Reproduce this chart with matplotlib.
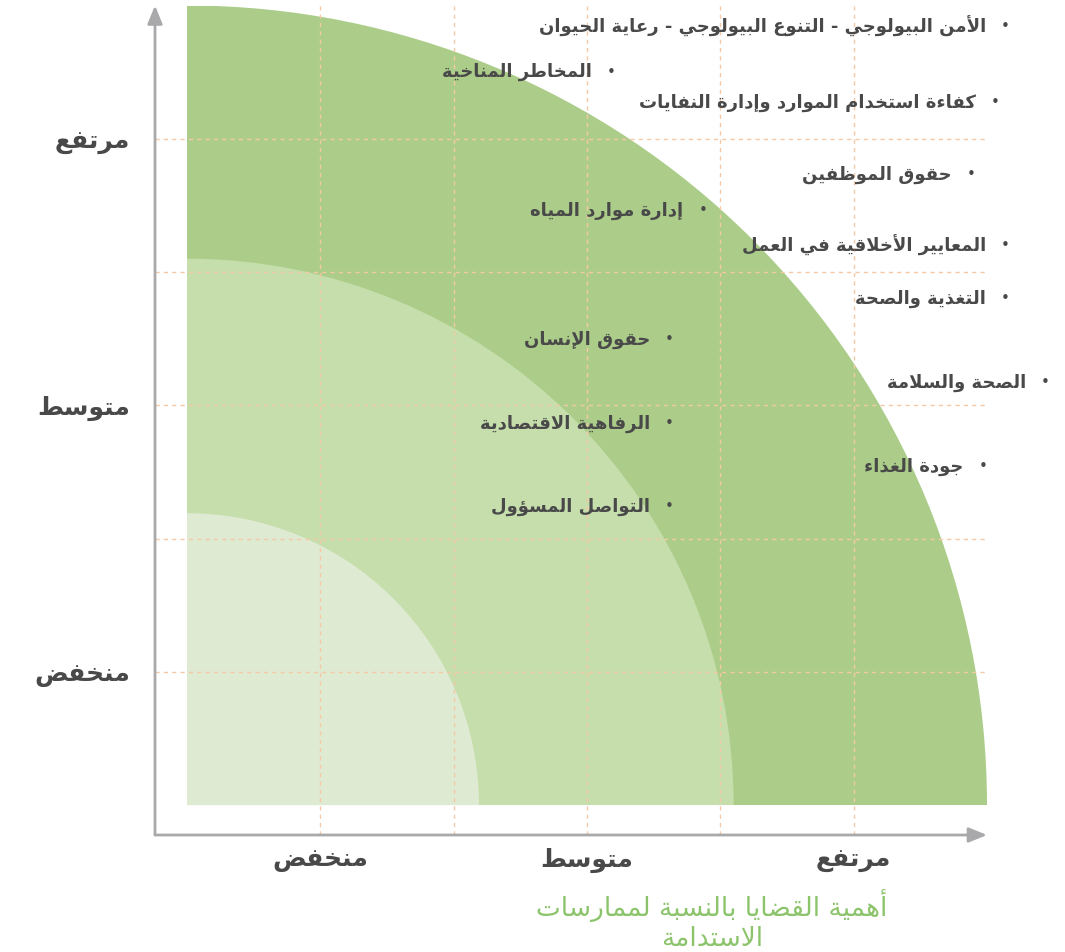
import matplotlib
matplotlib.use("Agg")
import matplotlib.pyplot as plt
from matplotlib.patches import Wedge

# data
level_names = ["منخفض", "متوسط", "مرتفع"]
level_pos = [1, 3, 5]
ring_radius = [6.0, 4.1, 2.19]
ring_color = ["#abcd89", "#c5deac", "#dfead3"]

issues = ["الأمن البيولوجي - التنوع البيولوجي - رعاية الحيوان",
          "المخاطر المناخية",
          "كفاءة استخدام الموارد وإدارة النفايات",
          "حقوق الموظفين",
          "إدارة موارد المياه",
          "المعايير الأخلاقية في العمل",
          "التغذية والصحة",
          "الصحة والسلامة",
          "جودة الغذاء",
          "حقوق الإنسان",
          "الرفاهية الاقتصادية",
          "التواصل المسؤول"]
issue_x = [6.14, 3.18, 6.06, 5.88, 3.87, 6.14, 6.14, 6.44, 5.97, 3.62, 3.62, 3.62]
issue_y = [5.84, 5.50, 5.27, 4.73, 4.46, 4.20, 3.80, 3.17, 2.54, 3.49, 2.86, 2.24]

xlabel_lines = ["أهمية القضايا بالنسبة لممارسات", "الاستدامة"]

# very small arabic shaper (matplotlib has no text shaping / bidi)
TWO = {'\u0622': 0xFE81, '\u0623': 0xFE83, '\u0624': 0xFE85, '\u0625': 0xFE87,
       '\u0627': 0xFE8D, '\u0629': 0xFE93, '\u062F': 0xFEA9, '\u0630': 0xFEAB,
       '\u0631': 0xFEAD, '\u0632': 0xFEAF, '\u0648': 0xFEED, '\u0649': 0xFEEF}
FOUR = {'\u0626': 0xFE89, '\u0628': 0xFE8F, '\u062A': 0xFE95, '\u062B': 0xFE99,
        '\u062C': 0xFE9D, '\u062D': 0xFEA1, '\u062E': 0xFEA5, '\u0633': 0xFEB1,
        '\u0634': 0xFEB5, '\u0635': 0xFEB9, '\u0636': 0xFEBD, '\u0637': 0xFEC1,
        '\u0638': 0xFEC5, '\u0639': 0xFEC9, '\u063A': 0xFECD, '\u0641': 0xFED1,
        '\u0642': 0xFED5, '\u0643': 0xFED9, '\u0644': 0xFEDD, '\u0645': 0xFEE1,
        '\u0646': 0xFEE5, '\u0647': 0xFEE9, '\u064A': 0xFEF1}
LAM_ALEF = {'\u0622': 0xFEF5, '\u0623': 0xFEF7, '\u0625': 0xFEF9, '\u0627': 0xFEFB}


def ar(s):
    toks = []
    i = 0
    while i < len(s):
        if s[i] == '\u0644' and i + 1 < len(s) and s[i + 1] in LAM_ALEF:
            toks.append(('LA', s[i + 1]))
            i += 2
        else:
            toks.append(('C', s[i]))
            i += 1
    out = []
    for k, (kind, c) in enumerate(toks):
        prev = toks[k - 1] if k > 0 else None
        nxt = toks[k + 1] if k + 1 < len(toks) else None
        jp = prev is not None and prev[0] == 'C' and prev[1] in FOUR
        if kind == 'LA':
            out.append(chr(LAM_ALEF[c] + (1 if jp else 0)))
        elif c in FOUR:
            jn = nxt is not None and (nxt[0] == 'LA' or nxt[1] in FOUR or nxt[1] in TWO)
            b = FOUR[c]
            if jp and jn:
                out.append(chr(b + 3))
            elif jp:
                out.append(chr(b + 1))
            elif jn:
                out.append(chr(b + 2))
            else:
                out.append(chr(b))
        elif c in TWO:
            out.append(chr(TWO[c] + (1 if jp else 0)))
        elif c == '\u0621':
            out.append('\uFE80')
        else:
            out.append(c)
    return ''.join(out)[::-1]


plt.rcParams['font.family'] = ['DejaVu Sans']
text_col = "#494949"
axis_col = "#a9a9ac"
grid_col = "#f6c9a6"

fig = plt.figure(figsize=(10.65, 9.52), dpi=100)
ax = fig.add_axes([155 / 1065, 117 / 952, 832 / 1065, 829.5 / 952])
ax.set_xlim(-0.24, 6.0)
ax.set_ylim(-0.225, 6.0)

for r, col in zip(ring_radius, ring_color):
    ax.add_patch(Wedge((0, 0), r, 0, 90, facecolor=col, edgecolor='none', zorder=1))

ax.set_xticks(level_pos)
ax.set_yticks(level_pos)
ax.set_xticks([2, 4], minor=True)
ax.set_yticks([2, 4], minor=True)
ax.set_xticklabels([ar(t) for t in level_names], fontsize=18, fontweight='bold', color=text_col)
ax.set_yticklabels([ar(t) for t in level_names], fontsize=18, fontweight='bold', color=text_col)
ax.tick_params(which='both', length=0)
ax.tick_params(axis='x', pad=9)
ax.tick_params(axis='y', pad=18)
ax.grid(which='both', color=grid_col, linestyle=(0, (3, 3)), linewidth=1)
ax.set_axisbelow(False)
for sp in ax.spines.values():
    sp.set_visible(False)

# arrows for the axes
ax.annotate('', xy=(0, 1), xytext=(0, 0), xycoords='axes fraction',
            arrowprops=dict(arrowstyle='-|>,head_length=1.1,head_width=0.45',
                            color=axis_col, lw=2, shrinkA=0, shrinkB=0))
ax.annotate('', xy=(1, 0), xytext=(0, 0), xycoords='axes fraction',
            arrowprops=dict(arrowstyle='-|>,head_length=1.1,head_width=0.45',
                            color=axis_col, lw=2, shrinkA=0, shrinkB=0))

for name, x, y in zip(issues, issue_x, issue_y):
    ax.text(x, y, '•', ha='center', va='center', fontsize=11, color=text_col,
            clip_on=False, zorder=4)
    ax.annotate(ar(name), xy=(x, y), xytext=(-14, 0), textcoords='offset points',
                ha='right', va='center', fontsize=13, fontweight='bold',
                color=text_col, annotation_clip=False, zorder=4)

fig.text(712 / 1065, 1 - 921 / 952, '\n'.join(ar(t) for t in xlabel_lines),
         ha='center', va='center', fontsize=19, color="#8cc46c",
         linespacing=1.2)

fig.savefig("out.png", dpi=100)
